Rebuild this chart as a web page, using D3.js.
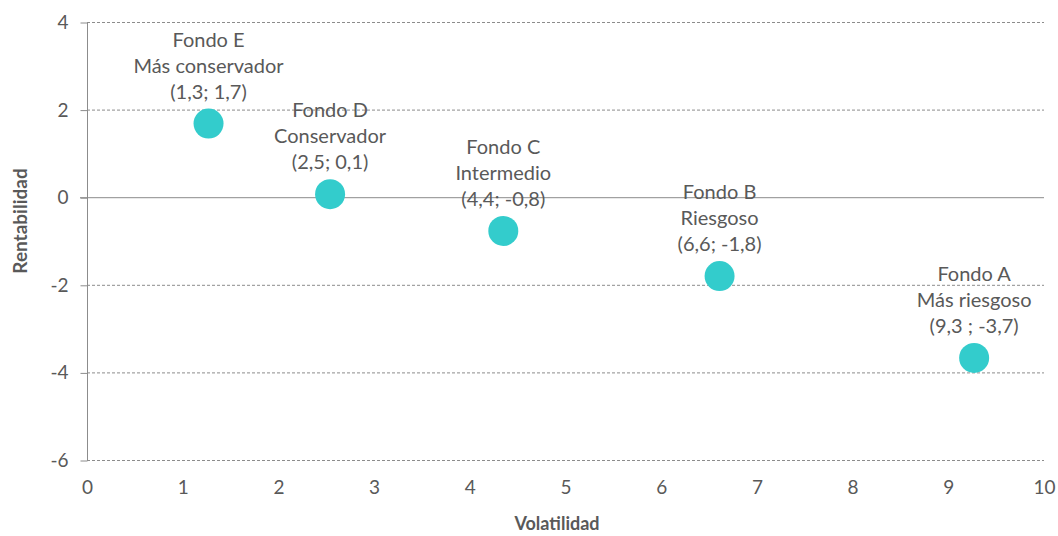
<!DOCTYPE html>
<html>
<head>
<meta charset="utf-8">
<script src="https://cdn.jsdelivr.net/npm/d3@7"></script>
<style>
  body { margin: 0; background: #fff; }
  text { font-family: Lato, "Open Sans", sans-serif; fill: #595959; }
</style>
</head>
<body>
<script>
var WIDTH = 1058,
    HEIGHT = 536;

// data
var fondos = ['Fondo A', 'Fondo B', 'Fondo C', 'Fondo D', 'Fondo E'];
var perfiles = ['Más riesgoso', 'Riesgoso', 'Intermedio', 'Conservador', 'Más conservador'];
var etiquetas = ['(9,3 ; -3,7)', '(6,6; -1,8)', '(4,4; -0,8)', '(2,5; 0,1)', '(1,3; 1,7)'];
var volatilidad = [9.27, 6.61, 4.35, 2.54, 1.27];
var rentabilidad = [-3.67, -1.8, -0.77, 0.07, 1.68];
var xTicks = [0, 1, 2, 3, 4, 5, 6, 7, 8, 9, 10];
var yTicks = [-6, -4, -2, 0, 2, 4];

document.addEventListener('DOMContentLoaded', function() {
    var svg = d3.select('body').append('svg')
        .attr('width', WIDTH)
        .attr('height', HEIGHT);

    var x = d3.scaleLinear().domain([0, 10]).range([87, 1044]);
    var y = d3.scaleLinear().domain([-6, 4]).range([460, 22]);

    // gridlines
    svg.append('g').selectAll('line')
        .data(yTicks.filter(d => d !== 0))
        .enter().append('line')
        .attr('x1', x(0)).attr('x2', x(10))
        .attr('y1', d => y(d) + 0.5).attr('y2', d => y(d) + 0.5)
        .attr('stroke', '#8c8c8c')
        .attr('stroke-width', 1)
        .attr('stroke-dasharray', '3,2');

    // y axis
    var yAxis = svg.append('g')
        .attr('transform', 'translate(' + (x(0) + 0.5) + ',0.5)')
        .call(d3.axisLeft(y).tickValues(yTicks).tickFormat(d => String(d))
            .tickSize(7).tickPadding(12));
    yAxis.select('.domain').attr('stroke', '#8c8c8c').attr('d', 'M0,' + y(-6) + 'V' + y(4));
    yAxis.selectAll('.tick line').attr('stroke', '#8c8c8c');
    yAxis.selectAll('.tick text')
        .style('font-size', '19px')
        .attr('fill', '#595959');

    // x axis line at y=0
    svg.append('line')
        .attr('x1', x(0) - 7).attr('x2', x(10))
        .attr('y1', y(0) + 0.5).attr('y2', y(0) + 0.5)
        .attr('stroke', '#8c8c8c');

    // x tick labels at bottom
    var xAxis = svg.append('g')
        .attr('transform', 'translate(0,' + y(-6) + ')')
        .call(d3.axisBottom(x).tickValues(xTicks).tickFormat(d => String(d))
            .tickSize(0).tickPadding(21));
    xAxis.select('.domain').remove();
    xAxis.selectAll('.tick text')
        .style('font-size', '19px')
        .attr('fill', '#595959');

    // axis titles
    svg.append('text')
        .attr('x', 557).attr('y', 524)
        .attr('dy', '0.35em')
        .attr('text-anchor', 'middle')
        .style('font-size', '18px')
        .style('font-weight', 'bold')
        .text('Volatilidad');

    svg.append('text')
        .attr('transform', 'translate(27,221) rotate(-90)')
        .attr('text-anchor', 'middle')
        .style('font-size', '19px')
        .style('font-weight', 'bold')
        .text('Rentabilidad');

    // points
    var pts = fondos.map((f, i) => ({
        fondo: f, perfil: perfiles[i], etiqueta: etiquetas[i],
        vx: volatilidad[i], vy: rentabilidad[i]
    }));

    svg.append('g').selectAll('circle')
        .data(pts)
        .enter().append('circle')
        .attr('cx', d => x(d.vx))
        .attr('cy', d => y(d.vy))
        .attr('r', 15)
        .attr('fill', '#33cccc');

    // labels
    var lab = svg.append('g').selectAll('text')
        .data(pts)
        .enter().append('text')
        .attr('text-anchor', 'middle')
        .style('font-size', '20px');

    lab.each(function(d) {
        var el = d3.select(this);
        var cx = x(d.vx), cy = y(d.vy);
        [d.fondo, d.perfil, d.etiqueta].forEach(function(t, j) {
            el.append('tspan')
                .attr('x', cx)
                .attr('y', cy - 25 - (2 - j) * 26)
                .text(t);
        });
    });
});
</script>
</body>
</html>
